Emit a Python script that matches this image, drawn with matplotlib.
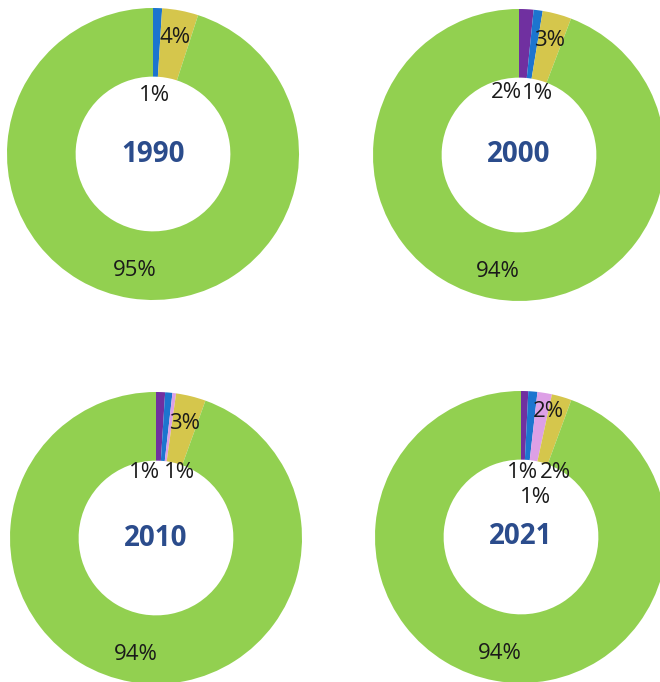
import numpy as np
import matplotlib
matplotlib.use("Agg")
import matplotlib.pyplot as plt

# Share of each category per year (percent), clockwise from 12 o'clock
years = ["1990", "2000", "2010", "2021"]
purple = [0.0, 1.6, 1.0, 0.8]
blue = [1.0, 1.0, 0.8, 1.0]
pink = [0.0, 0.0, 0.4, 1.6]
yellow = [4.0, 3.2, 3.3, 2.2]
green = [95.0, 94.2, 94.5, 94.4]

colors = ["#7030A0", "#1C75CF", "#DDA0E6", "#D5C64C", "#92D050"]

# donut centres / radius in pixels (660 x 682 canvas)
W, H = 660, 682
centers = [(153, 154), (519, 155), (156, 538), (521, 537)]
R = 146

# where the small-slice labels sit (radius units, relative to the centre);
# None -> label goes on the ring at the slice's mid angle
small_label_pos = [
    [None, (0.01, 0.40), None, None],
    [(-0.085, 0.43), (0.125, 0.42), None, None],
    [(-0.08, 0.45), (0.16, 0.45), None, None],
    [(0.01, 0.44), (0.10, 0.27), (0.235, 0.44), (0.19, 0.86)],
]

plt.rcParams["font.family"] = ["Open Sans", "DejaVu Sans"]
fig = plt.figure(figsize=(W / 100, H / 100), dpi=100)

for i, year in enumerate(years):
    cx, cy = centers[i]
    ax = fig.add_axes([(cx - R) / W, 1 - (cy + R) / H, 2 * R / W, 2 * R / H])
    vals = [purple[i], blue[i], pink[i], yellow[i], green[i]]
    wedges, _ = ax.pie(vals, colors=colors, startangle=90, counterclock=False,
                       radius=1, wedgeprops=dict(width=0.47, linewidth=0))
    ax.set_xlim(-1, 1)
    ax.set_ylim(-1, 1)
    ax.set_aspect("equal")
    ax.axis("off")

    for j, (w, v) in enumerate(zip(wedges, vals)):
        if round(v) == 0:
            continue
        pos = small_label_pos[i][j] if j < 4 else None
        if pos is None:
            ang = np.deg2rad((w.theta1 + w.theta2) / 2)
            pos = (0.81 * np.cos(ang), 0.81 * np.sin(ang))
        ax.text(pos[0], pos[1], f"{v:.0f}%", ha="center", va="center",
                fontsize=16, color="#1a1a1a")

    ax.text(0, 0, year, ha="center", va="center", fontsize=20,
            fontweight="bold", color="#2B4C8C")

fig.savefig("out.png", dpi=100)
